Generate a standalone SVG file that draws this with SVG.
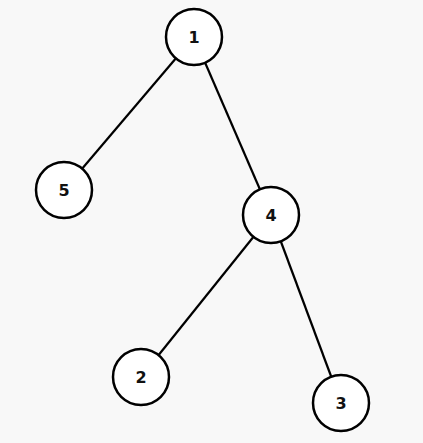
<svg xmlns="http://www.w3.org/2000/svg" width="423" height="443" viewBox="0 0 423 443">
<style>
.n circle{fill:#ffffff;stroke:#000;stroke-width:2.5}
.n text{font-family:"DejaVu Sans","Liberation Sans",sans-serif;font-weight:bold;font-size:16px;fill:#111;text-anchor:middle;dominant-baseline:central}
#edges line{stroke:#000;stroke-width:2.2}
</style>
<rect width="423" height="443" fill="#f8f8f8"/>
<g id="edges">
<line x1="194" y1="37" x2="64" y2="190"/>
<line x1="194" y1="37" x2="271" y2="215"/>
<line x1="271" y1="215" x2="141" y2="377"/>
<line x1="271" y1="215" x2="341" y2="403"/>
</g>
<g id="node1" class="n"><circle cx="194" cy="37" r="28"/><text x="194" y="37">1</text></g>
<g id="node5" class="n"><circle cx="64" cy="190" r="28"/><text x="64" y="190">5</text></g>
<g id="node4" class="n"><circle cx="271" cy="215" r="28"/><text x="271" y="215">4</text></g>
<g id="node2" class="n"><circle cx="141" cy="377" r="28"/><text x="141" y="377">2</text></g>
<g id="node3" class="n"><circle cx="341" cy="403" r="28"/><text x="341" y="403">3</text></g>
</svg>
